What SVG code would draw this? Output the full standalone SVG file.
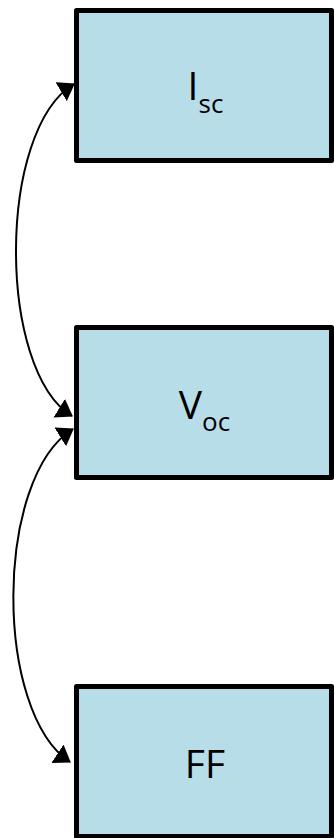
<svg xmlns="http://www.w3.org/2000/svg" width="334" height="838" viewBox="0 0 334 838">
  <style>
    .box { fill: #b7dde8; stroke: #000; stroke-width: 5; stroke-linejoin: round; }
    .lbl { font-family: "Open Sans", "Liberation Sans", sans-serif; font-size: 39px; fill: #000; text-anchor: middle; }
    .sub { font-size: 26px; }
    .conn { fill: none; stroke: #000; stroke-width: 2; marker-start: url(#arrow); marker-end: url(#arrow); }
  </style>
  <defs>
    <marker id="arrow" markerUnits="userSpaceOnUse" viewBox="0 0 16 22" markerWidth="16" markerHeight="22" refX="15" refY="11" orient="auto-start-reverse">
      <path d="M0,0 L16,11 L0,22 z" fill="#000"/>
    </marker>
  </defs>
  <g id="node-isc">
    <rect class="box" x="76.5" y="10.5" width="255" height="150"/>
    <text class="lbl" x="205.5" y="100">I<tspan class="sub" dy="13">sc</tspan></text>
  </g>
  <g id="node-voc">
    <rect class="box" x="76.5" y="327.5" width="255" height="150"/>
    <text class="lbl" x="204.5" y="419">V<tspan class="sub" dy="12">oc</tspan></text>
  </g>
  <g id="node-ff">
    <rect class="box" x="76.5" y="686.5" width="255" height="150"/>
    <text class="lbl" x="205" y="778">FF</text>
  </g>
  <g id="connectors">
    <path class="conn" d="M74,84 C-3,130 -3,370 72,416"/>
    <path class="conn" d="M73,429 C-6,478 -6,712 70,762"/>
  </g>
</svg>
